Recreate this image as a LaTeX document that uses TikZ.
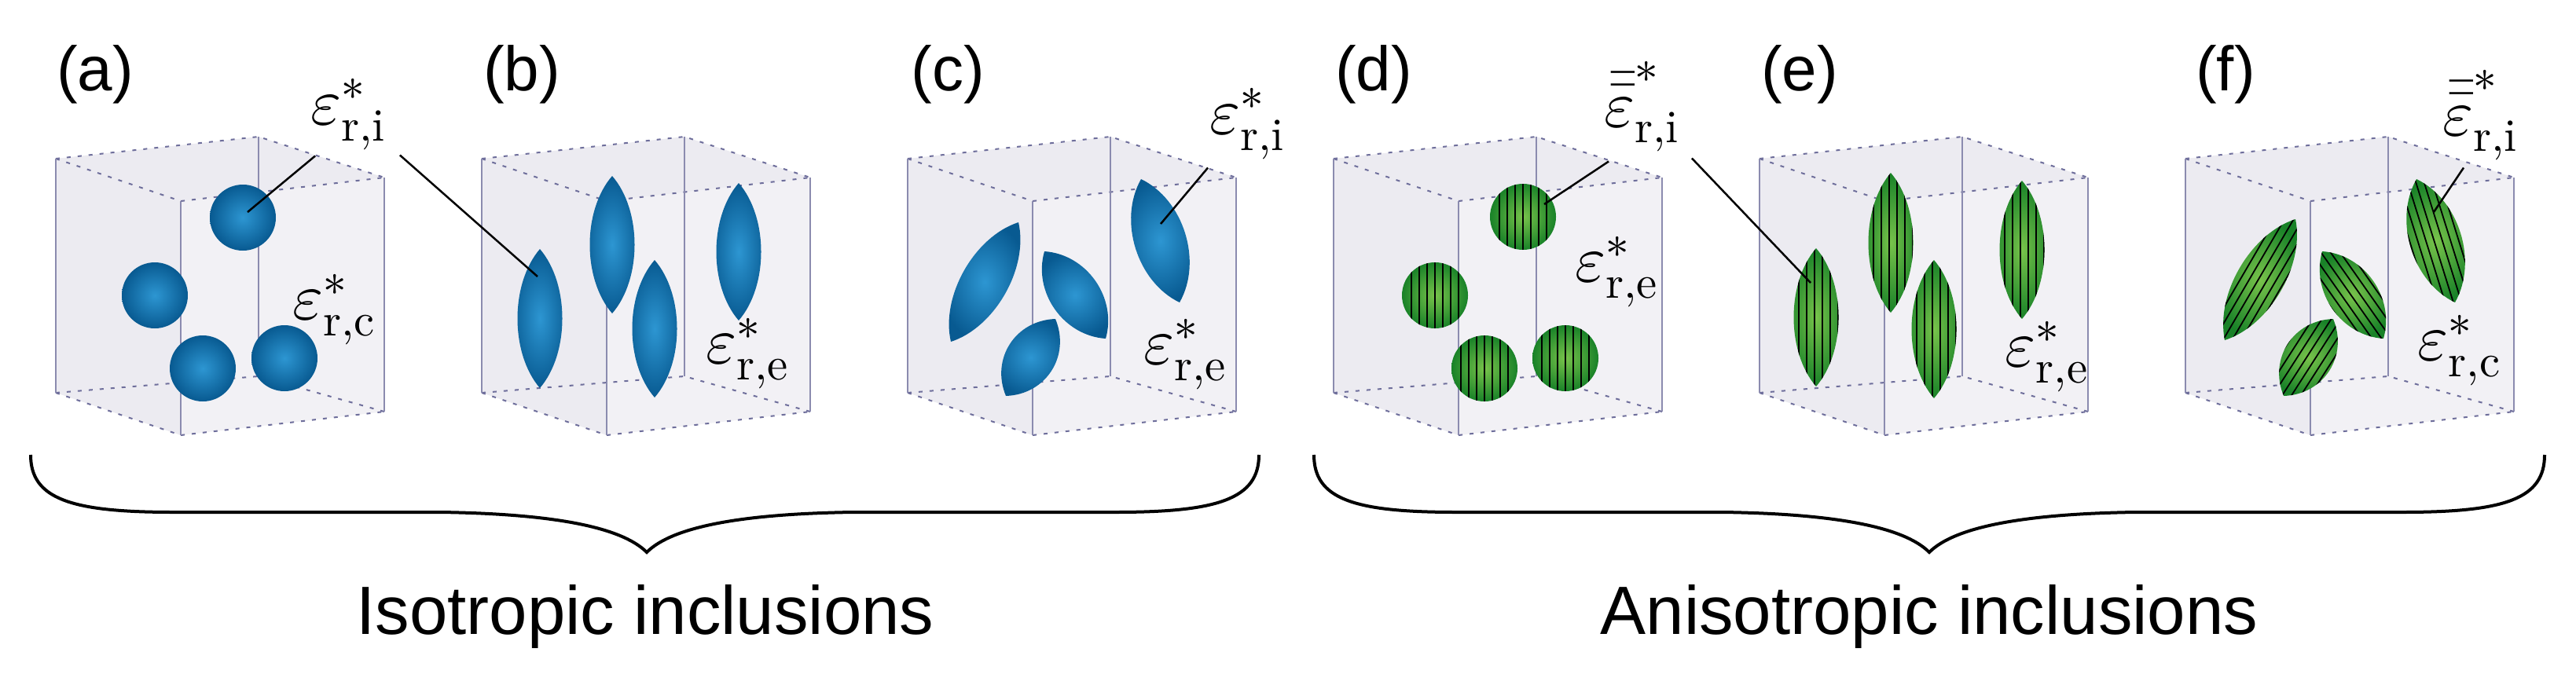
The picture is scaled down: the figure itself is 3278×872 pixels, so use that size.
\documentclass[tikz,border=0pt]{standalone}
\usepackage{fontspec}
\setmainfont{Liberation Sans}
\usepackage{unicode-math}
\setmathfont{Latin Modern Math}
\usetikzlibrary{calc}
\definecolor{boxfill}{RGB}{236,235,241}
\definecolor{boxedge}{RGB}{110,110,155}
\definecolor{bluein}{RGB}{45,150,210}
\definecolor{blueout}{RGB}{8,90,145}
\definecolor{grnin}{RGB}{120,195,75}
\definecolor{grnout}{RGB}{25,130,40}
\tikzset{
  hid/.style={boxedge,line width=2pt,dash pattern=on 5pt off 9pt},
  vis/.style={boxedge!80,line width=1.5pt},
  leader/.style={black,line width=2.5pt},
  plabel/.style={font=\fontsize{80}{80}\selectfont,inner sep=0pt},
  eps/.style={font=\fontsize{84}{84}\selectfont,inner sep=0pt},
  brace/.style={black,line width=4pt},
  caption/.style={font=\fontsize{87}{87}\selectfont,inner sep=0pt,anchor=base},
  bluefill/.style={inner color=bluein,outer color=blueout},
  grnfill/.style={inner color=grnin,outer color=grnout},
  stripe/.style={black,line width=1.8pt}
}
\newcommand\lensP[3]{(#1) .. controls ($(#1)!0.25!(#2)!#3!90:(#2)$) and ($(#1)!0.75!(#2)!#3!90:(#2)$) .. (#2) .. controls ($(#1)!0.75!(#2)!#3!-90:(#2)$) and ($(#1)!0.25!(#2)!#3!-90:(#2)$) .. (#1) -- cycle}
\newcommand\blens[3]{\shade[bluefill] \lensP{#1}{#2}{#3};}
\newcommand\glens[3]{\begin{scope}\clip \lensP{#1}{#2}{#3};
  \shade[grnfill] \lensP{#1}{#2}{#3};
  \foreach \k in {-32,-22,...,32} \draw[stripe] ($(#1)!\k pt!90:(#2)$) -- ($(#2)!\k pt!-90:(#1)$);
  \end{scope}}
\newcommand\bsph[1]{\shade[bluefill] (#1) circle (42);}
\newcommand\gsph[1]{\begin{scope}\clip (#1) circle (42);
  \shade[grnfill] (#1) circle (42);
  \foreach \k in {-30,-20,...,30} \draw[stripe] ($(#1)+(\k,-50)$) -- ($(#1)+(\k,50)$);
  \end{scope}}
\newcommand\cube{%
  \fill[boxfill] (0,202) -- (258,174) -- (418,226) -- (418,524) -- (159,554) -- (0,500) -- cycle;
  \fill[white,opacity=0.35] (159,256) -- (418,226) -- (418,524) -- (159,554) -- cycle;
  \draw[hid] (0,202) -- (258,174) -- (418,226);
  \draw[hid] (0,202) -- (159,256) -- (418,226);
  \draw[hid] (0,500) -- (159,554) -- (418,524);
  \draw[hid] (0,500) -- (258,479) -- (418,524);
  \draw[vis] (0,202) -- (0,500);
  \draw[vis] (159,256) -- (159,554);
  \draw[vis] (418,226) -- (418,524);
  \draw[vis] (258,174) -- (258,479);
}
\begin{document}
\begin{tikzpicture}[x=1pt,y=-1pt]
\useasboundingbox (0,0) rectangle (3278,872);
% (a)
\begin{scope}[shift={(71,0)}]
  \cube
  \bsph{238,277}\bsph{126,376}\bsph{187,469}\bsph{291,456}
  \coordinate (a1) at (244,270);
  \node[plabel] (la) at (50,95) {(a)};
  \node[eps] (ai) at (372,146) {$\varepsilon^*_{\symup{r,i}}$};
  \node[eps] (ac) at (354,394) {$\varepsilon^*_{\symup{r,c}}$};
\end{scope}
% (b)
\begin{scope}[shift={(613,0)}]
  \cube
  \blens{74,317}{74,494}{38pt}
  \blens{166,224}{166,399}{38pt}
  \blens{220,331}{220,506}{38pt}
  \blens{327,233}{327,408}{38pt}
  \coordinate (b1) at (71,352);
  \node[plabel] (lb) at (51,95) {(b)};
  \node[eps] (be) at (338,450) {$\varepsilon^*_{\symup{r,e}}$};
\end{scope}
% (c)
\begin{scope}[shift={(1155,0)}]
  \cube
  \blens{141,283}{55,435}{40pt}
  \blens{174,320}{252,431}{42pt}
  \blens{188,406}{125,504}{42pt}
  \blens{297,228}{346,385}{44pt}
  \coordinate (c1) at (322,285);
  \node[plabel] (lc) at (51,95) {(c)};
  \node[eps] (ci) at (432,158) {$\varepsilon^*_{\symup{r,i}}$};
  \node[eps] (ce) at (353,451) {$\varepsilon^*_{\symup{r,e}}$};
\end{scope}
% (d)
\begin{scope}[shift={(1697,0)}]
  \cube
  \gsph{241,276}\gsph{129,376}\gsph{192,469}\gsph{295,456}
  \coordinate (d1) at (268,260);
  \node[plabel] (ld) at (51,95) {(d)};
  \node[eps] (di) at (392,136) {$\bar{\bar{\varepsilon}}^*_{\symup{r,i}}$};
  \node[eps] (de) at (360,346) {$\varepsilon^*_{\symup{r,e}}$};
\end{scope}
% (e)
\begin{scope}[shift={(2239,0)}]
  \cube
  \glens{72,316}{72,492}{38pt}
  \glens{167,220}{167,398}{38pt}
  \glens{222,331}{222,507}{38pt}
  \glens{334,230}{334,406}{38pt}
  \coordinate (e1) at (65,360);
  \node[plabel] (le) at (51,95) {(e)};
  \node[eps] (ee) at (365,454) {$\varepsilon^*_{\symup{r,e}}$};
\end{scope}
% (f)
\begin{scope}[shift={(2781,0)}]
  \cube
  \glens{140,279}{50,433}{40pt}
  \glens{174,320}{252,431}{42pt}
  \glens{188,406}{125,504}{42pt}
  \glens{294,228}{343,385}{44pt}
  \coordinate (f1) at (316,270);
  \node[plabel] (lf) at (51,95) {(f)};
  \node[eps] (fi) at (375,147) {$\bar{\bar{\varepsilon}}^*_{\symup{r,i}}$};
  \node[eps] (fc) at (348,446) {$\varepsilon^*_{\symup{r,c}}$};
\end{scope}
% leaders
\draw[leader] ([shift={(6pt,-7pt)}]ai.south west) -- (a1);
\draw[leader] ([shift={(18pt,-6pt)}]ai.south east) -- (b1);
\draw[leader] ([shift={(-2pt,-10pt)}]ci.south west) -- (c1);
\draw[leader] ([shift={(6pt,-12pt)}]di.south west) -- (d1);
\draw[leader] ([shift={(16pt,-8pt)}]di.south east) -- (e1);
\draw[leader] ([shift={(-21pt,-9pt)}]fi.south) -- (f1);
% braces
\coordinate (bl0) at (39,579); \coordinate (blt) at (823,703); \coordinate (bl1) at (1602,579);
\draw[brace] (bl0) .. controls (39,635) and (90,652) .. (220,652) -- (560,652)
  .. controls (700,654) and (790,670) .. (blt)
  .. controls (856,670) and (946,654) .. (1086,652) -- (1420,652)
  .. controls (1550,652) and (1602,635) .. (bl1);
\coordinate (br0) at (1672,579); \coordinate (brt) at (2455,703); \coordinate (br1) at (3238,579);
\draw[brace] (br0) .. controls (1672,635) and (1722,652) .. (1852,652) -- (2192,652)
  .. controls (2332,654) and (2422,670) .. (brt)
  .. controls (2488,670) and (2578,654) .. (2718,652) -- (3058,652)
  .. controls (3188,652) and (3238,635) .. (br1);
\node[caption] (iso) at (821,807) {Isotropic inclusions};
\node[caption] (aniso) at (2455,807) {Anisotropic inclusions};
\end{tikzpicture}
\end{document}
